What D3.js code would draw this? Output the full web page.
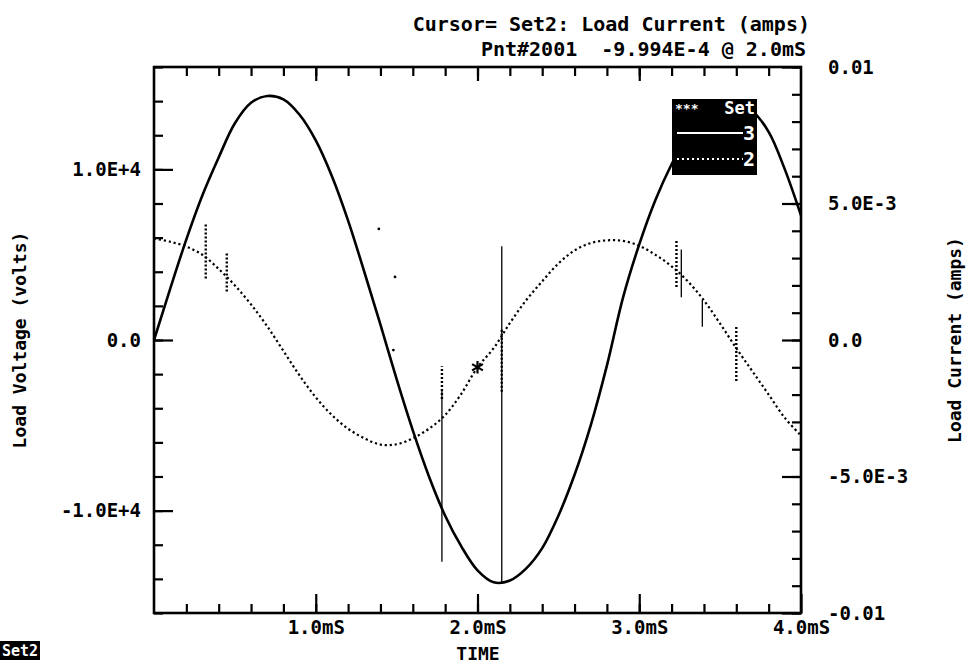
<!DOCTYPE html>
<html>
<head>
<meta charset="utf-8">
<script src="https://cdn.jsdelivr.net/npm/d3@7"></script>
<style>
  body { margin: 0; background: #fff; }
  svg { display: block; }
  text { font-family: 'DejaVu Sans Mono', monospace; font-weight: bold; fill: #000; }
</style>
</head>
<body>
<svg class="container" width="973" height="667"></svg>
<script>
// sample times (mS), shared by both records
const sampleTime = [0, 0.1, 0.2, 0.3, 0.4, 0.5, 0.6, 0.7, 0.8, 0.9, 1.0, 1.1, 1.2, 1.3, 1.4, 1.5, 1.6, 1.7, 1.8, 1.9,
  2.0, 2.1, 2.2, 2.3, 2.4, 2.5, 2.6, 2.7, 2.8, 2.9, 3.0, 3.1, 3.2, 3.3, 3.4, 3.5, 3.6, 3.7, 3.8, 3.9, 4.0];

// Set 3: load voltage (volts), left axis
const voltValues = [0, 3000, 5900, 8500, 10700, 12700, 13900, 14300, 14100, 13200, 11700, 9600, 7000, 4000, 900,
  -2300, -5300, -8000, -10300, -12100, -13500, -14200, -14100, -13400, -12200, -10300, -7900, -5000, -1500, 2500,
  5600, 8200, 10300, 12000, 13200, 13800, 13900, 13400, 12200, 10000, 7300];

// Set 2: load current (amps), right axis
const ampValues = [3.72e-3, 3.6e-3, 3.42e-3, 3.12e-3, 2.6e-3, 2.0e-3, 1.3e-3, 0.5e-3, -0.4e-3, -1.3e-3, -2.1e-3,
  -2.75e-3, -3.25e-3, -3.6e-3, -3.83e-3, -3.82e-3, -3.6e-3, -3.25e-3, -2.75e-3, -1.97e-3, -1.0e-3, -0.3e-3, 0.62e-3,
  1.45e-3, 2.15e-3, 2.8e-3, 3.28e-3, 3.55e-3, 3.65e-3, 3.63e-3, 3.45e-3, 3.12e-3, 2.7e-3, 2.15e-3, 1.45e-3, 0.6e-3,
  -0.3e-3, -1.15e-3, -2.0e-3, -2.85e-3, -3.5e-3];

// glitches in the record: [time, low, high]
const voltSpikes = [[1.78, -13000, -2900], [2.15, -14300, 5500], [3.26, 2500, 5300], [3.39, 770, 2350]];
const ampSpikes = [[0.32, 2.25e-3, 4.27e-3], [0.45, 1.78e-3, 3.17e-3], [1.78, -2.16e-3, -0.96e-3],
  [2.15, -1.9e-3, 0.41e-3], [3.23, 1.94e-3, 3.66e-3], [3.6, -1.5e-3, 0.5e-3]];
const strayDots = [[1.39, 4.07e-3], [1.49, 2.31e-3], [1.48, -0.37e-3]];

// cursor point
const cursorTime = 2.0;
const cursorValue = -9.994e-4;

// ticks
const timeMajor = [1, 2, 3, 4];
const timeLabels = ['1.0mS', '2.0mS', '3.0mS', '4.0mS'];
const timeMinor = d3.range(1, 20).map(i => i / 5);
const voltMajor = [10000, 0, -10000];
const voltLabels = ['1.0E+4', '0.0', '-1.0E+4'];
const voltMinor = d3.range(-8, 9).map(i => i * 2000);
const ampMajor = [0.01, 0.005, 0, -0.005, -0.01];
const ampLabels = ['0.01', '5.0E-3', '0.0', '-5.0E-3', '-0.01'];
const ampMinor = d3.range(-10, 11).map(i => i / 1000);

const MARGIN = { TOP: 67, LEFT: 154 };
const WIDTH = 647;
const HEIGHT = 546;

const xScale = d3.scaleLinear().domain([0, 4]).range([0, WIDTH]);
const yVolt = d3.scaleLinear().domain([-16000, 16000]).range([HEIGHT, 0]);
const yAmp = d3.scaleLinear().domain([-0.01, 0.01]).range([HEIGHT, 0]);

const svg = d3.select('.container');

// titles
svg.append('text').attr('x', 810).attr('y', 31).attr('text-anchor', 'end').attr('font-size', 20)
  .text('Cursor= Set2: Load Current (amps)');
svg.append('text').attr('x', 806).attr('y', 56).attr('text-anchor', 'end').attr('font-size', 20)
  .style('white-space', 'pre')
  .text('Pnt#2001  -9.994E-4 @ 2.0mS');

const plot = svg.append('g').attr('transform', `translate(${MARGIN.LEFT},${MARGIN.TOP})`);

function styleAxis(g, size) {
  g.select('.domain').remove();
  g.selectAll('line').attr('stroke', '#000').attr('stroke-width', 2.2);
  g.attr('font-family', null).attr('font-size', size);
  g.selectAll('text').attr('font-size', size);
}

// minor ticks on all four sides
plot.append('g').attr('transform', `translate(0,${HEIGHT})`)
  .call(d3.axisBottom(xScale).tickValues(timeMinor).tickSizeInner(-9).tickSizeOuter(0).tickFormat(''))
  .call(styleAxis, 19);
plot.append('g')
  .call(d3.axisTop(xScale).tickValues(timeMinor).tickSizeInner(-9).tickSizeOuter(0).tickFormat(''))
  .call(styleAxis, 19);
plot.append('g')
  .call(d3.axisLeft(yVolt).tickValues(voltMinor).tickSizeInner(-9).tickSizeOuter(0).tickFormat(''))
  .call(styleAxis, 19);
plot.append('g').attr('transform', `translate(${WIDTH},0)`)
  .call(d3.axisRight(yAmp).tickValues(ampMinor).tickSizeInner(-9).tickSizeOuter(0).tickFormat(''))
  .call(styleAxis, 19);

// major ticks and labels
plot.append('g').attr('transform', `translate(0,${HEIGHT})`)
  .call(d3.axisBottom(xScale).tickValues(timeMajor).tickSizeInner(-19).tickSizeOuter(0).tickPadding(8)
    .tickFormat((d, i) => timeLabels[i]))
  .call(styleAxis, 19);
plot.append('g')
  .call(d3.axisTop(xScale).tickValues(timeMajor.slice(0, 3)).tickSizeInner(-14).tickSizeOuter(0).tickFormat(''))
  .call(styleAxis, 19);
plot.append('g')
  .call(d3.axisLeft(yVolt).tickValues(voltMajor).tickSizeInner(-19).tickSizeOuter(0).tickPadding(13)
    .tickFormat((d, i) => voltLabels[i]))
  .call(styleAxis, 19);
plot.append('g').attr('transform', `translate(${WIDTH},0)`)
  .call(d3.axisRight(yAmp).tickValues(ampMajor).tickSizeInner(-19).tickSizeOuter(0).tickPadding(27)
    .tickFormat((d, i) => ampLabels[i]))
  .call(styleAxis, 19);

// frame
plot.append('rect').attr('width', WIDTH).attr('height', HEIGHT)
  .attr('fill', 'none').attr('stroke', '#000').attr('stroke-width', 2.6);

// axis titles
svg.append('text').attr('x', 478).attr('y', 660).attr('text-anchor', 'middle').attr('font-size', 18).text('TIME');
svg.append('text').attr('transform', `translate(26,${MARGIN.TOP + HEIGHT / 2}) rotate(-90)`)
  .attr('text-anchor', 'middle').attr('font-size', 18).text('Load Voltage (volts)');
svg.append('text').attr('transform', `translate(961,${MARGIN.TOP + HEIGHT / 2}) rotate(-90)`)
  .attr('text-anchor', 'middle').attr('font-size', 18).text('Load Current (amps)');

// curves
const voltLine = d3.line()
  .x((d, i) => xScale(sampleTime[i]))
  .y(d => yVolt(d))
  .curve(d3.curveCatmullRom);
plot.append('path').datum(voltValues)
  .attr('d', voltLine)
  .attr('fill', 'none').attr('stroke', '#000').attr('stroke-width', 2.6);

const ampLine = d3.line()
  .x((d, i) => xScale(sampleTime[i]))
  .y(d => yAmp(d))
  .curve(d3.curveCatmullRom);
plot.append('path').datum(ampValues)
  .attr('d', ampLine)
  .attr('fill', 'none').attr('stroke', '#000').attr('stroke-width', 2.2)
  .attr('stroke-dasharray', '2.2,2.8');

// glitches
plot.selectAll('.vspike').data(voltSpikes).enter().append('line')
  .attr('class', 'vspike')
  .attr('x1', d => xScale(d[0])).attr('x2', d => xScale(d[0]))
  .attr('y1', d => yVolt(d[1])).attr('y2', d => yVolt(d[2]))
  .attr('stroke', '#000').attr('stroke-width', 1.3);
plot.selectAll('.aspike').data(ampSpikes).enter().append('line')
  .attr('class', 'aspike')
  .attr('x1', d => xScale(d[0])).attr('x2', d => xScale(d[0]))
  .attr('y1', d => yAmp(d[1])).attr('y2', d => yAmp(d[2]))
  .attr('stroke', '#000').attr('stroke-width', 2.4).attr('stroke-dasharray', '2,2');
plot.selectAll('.stray').data(strayDots).enter().append('circle')
  .attr('class', 'stray')
  .attr('cx', d => xScale(d[0])).attr('cy', d => yAmp(d[1])).attr('r', 1.4).attr('fill', '#000');

// cursor marker
plot.append('path')
  .attr('transform', `translate(${xScale(cursorTime)},${yAmp(cursorValue)})`)
  .attr('d', d3.symbol().type(d3.symbolAsterisk).size(110)())
  .attr('fill', 'none').attr('stroke', '#000').attr('stroke-width', 2.2);

// legend
const legend = svg.append('g').attr('transform', 'translate(672,99)');
legend.append('rect').attr('width', 85).attr('height', 76).attr('fill', '#000');
legend.append('text').attr('x', 3).attr('y', 14).attr('font-size', 13).style('fill', '#fff').text('***');
legend.append('text').attr('x', 83).attr('y', 15).attr('text-anchor', 'end')
  .attr('font-family', 'Liberation Sans, sans-serif').attr('font-size', 17).style('fill', '#fff').text('Set');
legend.append('line').attr('x1', 5).attr('x2', 71).attr('y1', 34).attr('y2', 34)
  .attr('stroke', '#fff').attr('stroke-width', 2);
legend.append('text').attr('x', 83).attr('y', 41).attr('text-anchor', 'end')
  .attr('font-family', 'Liberation Sans, sans-serif').attr('font-size', 20).style('fill', '#fff').text('3');
legend.append('line').attr('x1', 5).attr('x2', 71).attr('y1', 60).attr('y2', 60)
  .attr('stroke', '#fff').attr('stroke-width', 2).attr('stroke-dasharray', '2,3');
legend.append('text').attr('x', 83).attr('y', 67).attr('text-anchor', 'end')
  .attr('font-family', 'Liberation Sans, sans-serif').attr('font-size', 20).style('fill', '#fff').text('2');

// active set tag, bottom left
svg.append('rect').attr('x', 0).attr('y', 641).attr('width', 40).attr('height', 19).attr('fill', '#000');
svg.append('text').attr('x', 2).attr('y', 656).attr('font-size', 15).style('fill', '#fff').text('Set2');
</script>
</body>
</html>
